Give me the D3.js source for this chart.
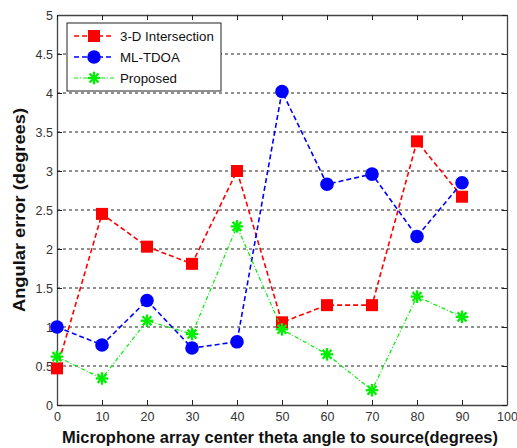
<!DOCTYPE html>
<html>
<head>
<meta charset="utf-8">
<script src="https://cdn.jsdelivr.net/npm/d3@7"></script>
<style>
  html, body { margin: 0; padding: 0; background: #fff; }
  svg { display: block; font-family: "Liberation Sans", Arial, sans-serif; }
</style>
</head>
<body>
<svg id="chart" width="517" height="448"></svg>
<script>
// Angle of the microphone array centre (degrees)
const angles = [0, 10, 20, 30, 40, 50, 60, 70, 80, 90];
// Angular error per method (degrees)
const intersection3D = [0.47, 2.45, 2.03, 1.81, 3.0, 1.06, 1.28, 1.28, 3.38, 2.67];
const mlTdoa = [1.0, 0.77, 1.34, 0.73, 0.81, 4.02, 2.83, 2.96, 2.16, 2.85];
const proposed = [0.62, 0.34, 1.08, 0.91, 2.29, 0.97, 0.65, 0.19, 1.39, 1.13];
const seriesNames = ["3-D Intersection", "ML-TDOA", "Proposed"];
const xTicks = [0, 10, 20, 30, 40, 50, 60, 70, 80, 90, 100];
const yTicks = [0, 0.5, 1, 1.5, 2, 2.5, 3, 3.5, 4, 4.5, 5];

const svg = d3.select("#chart");
const m = { left: 57, right: 507, top: 15, bottom: 405 };
const x = d3.scaleLinear().domain([0, 100]).range([m.left, m.right]);
const y = d3.scaleLinear().domain([0, 5]).range([m.bottom, m.top]);
const fmt = d => String(d);

// horizontal dashed grid
svg.append("g").selectAll("line")
  .data(yTicks.filter(v => v > 0 && v < 5))
  .join("line")
  .attr("x1", m.left).attr("x2", m.right)
  .attr("y1", d => y(d)).attr("y2", d => y(d))
  .attr("stroke", "#222").attr("stroke-width", 1)
  .attr("stroke-dasharray", "3,3");

const axisColor = "#444";
const tickLen = 5;
// axes: bottom/left with labels, top/right mirrored ticks only
const gx = svg.append("g").attr("transform", `translate(0,${m.bottom})`)
  .call(d3.axisBottom(x).tickValues(xTicks).tickFormat(fmt).tickSizeInner(-tickLen).tickSizeOuter(0).tickPadding(8));
const gy = svg.append("g").attr("transform", `translate(${m.left},0)`)
  .call(d3.axisLeft(y).tickValues(yTicks).tickFormat(fmt).tickSizeInner(-tickLen).tickSizeOuter(0).tickPadding(4));
const gxt = svg.append("g").attr("transform", `translate(0,${m.top})`)
  .call(d3.axisTop(x).tickValues(xTicks).tickFormat("").tickSizeInner(-tickLen).tickSizeOuter(0));
const gyr = svg.append("g").attr("transform", `translate(${m.right},0)`)
  .call(d3.axisRight(y).tickValues(yTicks).tickFormat("").tickSizeInner(-tickLen).tickSizeOuter(0));
[gx, gy, gxt, gyr].forEach(g => {
  g.selectAll(".domain").attr("stroke", axisColor).attr("stroke-width", 1.3);
  g.selectAll(".tick line").attr("stroke", "#222");
  g.selectAll("text").attr("fill", "#333").attr("font-size", 12.5)
    .attr("font-family", "'Liberation Sans Narrow', 'Liberation Sans', Arial, sans-serif");
});
gx.selectAll("text").attr("dy", "0.6em");

// axis titles
svg.append("text")
  .attr("x", 280).attr("y", 443)
  .attr("text-anchor", "middle").attr("font-weight", "bold").attr("font-size", 17)
  .attr("fill", "#111")
  .attr("textLength", 436).attr("lengthAdjust", "spacingAndGlyphs")
  .text("Microphone array center theta angle to source(degrees)");
svg.append("text")
  .attr("transform", `translate(25,210) rotate(-90)`)
  .attr("text-anchor", "middle").attr("font-weight", "bold").attr("font-size", 17)
  .attr("fill", "#111")
  .attr("textLength", 204).attr("lengthAdjust", "spacingAndGlyphs")
  .text("Angular error (degrees)");

// marker drawers
function square(g, cx, cy, color) {
  g.append("rect").attr("x", cx - 6).attr("y", cy - 6).attr("width", 12).attr("height", 12)
    .attr("fill", color);
}
function circle(g, cx, cy, color) {
  g.append("circle").attr("cx", cx).attr("cy", cy).attr("r", 6.8).attr("fill", color);
}
function star(g, cx, cy, color) {
  const r = 6.3;
  for (let k = 0; k < 4; k++) {
    const a = k * Math.PI / 4;
    g.append("line")
      .attr("x1", cx - r * Math.cos(a)).attr("y1", cy - r * Math.sin(a))
      .attr("x2", cx + r * Math.cos(a)).attr("y2", cy + r * Math.sin(a))
      .attr("stroke", color).attr("stroke-width", 2.3);
  }
}

const series = [
  { name: seriesNames[0], values: intersection3D, color: "#ff0000", dash: "5,3", width: 1.6, marker: square },
  { name: seriesNames[1], values: mlTdoa, color: "#0000ff", dash: "5,3", width: 1.6, marker: circle },
  { name: seriesNames[2], values: proposed, color: "#00ee00", dash: "4,2,1,2", width: 1.2, marker: star }
];

const line = d3.line().x(d => x(d[0])).y(d => y(d[1]));
series.forEach(s => {
  const pts = angles.map((a, i) => [a, s.values[i]]);
  svg.append("path").datum(pts).attr("d", line)
    .attr("fill", "none").attr("stroke", s.color)
    .attr("stroke-width", s.width).attr("stroke-dasharray", s.dash);
  const g = svg.append("g");
  pts.forEach(p => s.marker(g, x(p[0]), y(p[1]), s.color));
});

// legend
const lg = svg.append("g");
lg.append("rect").attr("x", 67).attr("y", 23).attr("width", 154).attr("height", 68)
  .attr("fill", "#fff").attr("stroke", "#222").attr("stroke-width", 1);
series.forEach((s, i) => {
  const ly = 36 + i * 21;
  lg.append("line").attr("x1", 74).attr("x2", 114).attr("y1", ly).attr("y2", ly)
    .attr("stroke", s.color).attr("stroke-width", s.width).attr("stroke-dasharray", s.dash);
  s.marker(lg, 94, ly, s.color);
  lg.append("text").attr("x", 120).attr("y", ly).attr("dy", "0.36em")
    .attr("font-size", 13.3).attr("fill", "#111").text(s.name);
});
</script>
</body>
</html>
